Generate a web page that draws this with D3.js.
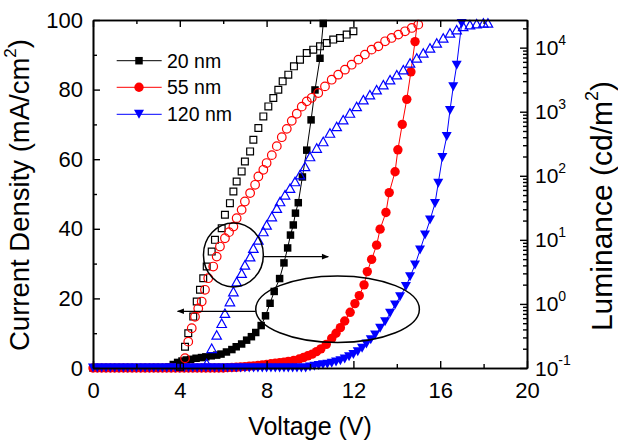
<!DOCTYPE html>
<html>
<head>
<meta charset="utf-8">
<script src="https://cdn.jsdelivr.net/npm/d3@7"></script>
<style>
body { margin: 0; background: #fff; }
svg { display: block; font-family: "Liberation Sans", Arial, sans-serif; }
</style>
</head>
<body>
<svg id="chart" width="618" height="446"></svg>
<script>
// ---- data ----
var seriesNames = ["20 nm", "55 nm", "120 nm"];

// current density (mA/cm2), filled symbols, left axis: [V, J]
var jd20 = [[0,0],[0.2,0],[0.4,0],[0.6,0],[0.8,0],[1,0],[1.2,0],[1.4,0],[1.6,0],[1.8,0],[2,0],[2.2,0],[2.4,0],[2.6,0],[2.8,0],[3,0],[3.2,0],
  [3.5,0.3],[3.7,1.0],[3.9,1.6],[4.1,2.0],[4.3,2.3],[4.5,2.5],[4.75,2.8],[5.0,3.0],[5.2,3.2],[5.45,3.5],[5.7,3.7],[5.9,4.0],
  [6.15,4.6],[6.4,5.3],[6.6,6.1],[6.85,6.9],[7.08,8.0],[7.3,9.0],[7.5,10.2],[7.75,12.2],[7.95,15.0],[8.16,18.6],[8.35,22.0],
  [8.6,25.7],[8.8,30.2],[8.97,34.5],[9.1,38.2],[9.23,41.1],[9.33,44.5],[9.46,47.5],[9.65,54.9],[9.85,62.6],[10.05,71.3],
  [10.23,79.9],[10.46,89.0],[10.61,99.0],[10.75,108]];
var jd55 = [[0,0],[0.2,0],[0.4,0],[0.6,0],[0.8,0],[1,0],[1.2,0],[1.4,0],[1.6,0],[1.8,0],[2,0],[2.2,0],[2.4,0],[2.6,0],[2.8,0],[3,0],
  [3.2,0],[3.4,0],[3.6,0],[3.8,0],[4,0],[4.2,0],[4.4,0],[4.6,0],[4.8,0],[5,0],[5.2,0],[5.4,0],[5.6,0],[5.8,0],[6,0],
  [6.2,0.1],[6.4,0.15],[6.6,0.2],[6.8,0.3],[7.0,0.4],[7.2,0.5],[7.4,0.6],[7.6,0.75],[7.8,0.9],[8.0,1.0],[8.2,1.2],[8.4,1.35],
  [8.6,1.5],[8.8,1.7],[9.0,1.9],[9.25,2.2],[9.5,2.6],[9.7,3.0],[9.9,3.5],[10.1,4.0],[10.3,4.7],[10.5,5.5],[10.75,6.8],
  [11.0,8.5],[11.2,10.0],[11.4,11.6],[11.6,13.5],[11.85,16.0],[12.07,18.5],[12.27,20.8],[12.49,23.9],[12.64,27.7],[12.84,31.2],
  [13.07,35.3],[13.23,39.9],[13.5,44.7],[13.65,50.4],[13.92,56.4],[14.05,62.7],[14.25,70.0],[14.46,77.2],[14.65,85.1],
  [14.84,93.8],[15.0,102]];
var jd120 = [[0,0],[0.2,0],[0.4,0],[0.6,0],[0.8,0],[1,0],[1.2,0],[1.4,0],[1.6,0],[1.8,0],[2,0],[2.2,0],[2.4,0],[2.6,0],[2.8,0],[3,0],
  [3.2,0],[3.4,0],[3.6,0],[3.8,0],[4,0],[4.2,0],[4.4,0],[4.6,0],[4.8,0],[5,0],[5.2,0],[5.4,0],[5.6,0],[5.8,0],[6,0],[6.2,0],
  [6.4,0],[6.6,0],[6.8,0],[7,0],[7.2,0],[7.4,0],[7.6,0],[7.8,0],[8,0],[8.2,0],[8.4,0],[8.6,0],[8.8,0],[9,0],[9.2,0],[9.4,0],
  [9.6,0],[9.8,0],[10.0,0.3],[10.2,0.5],[10.4,0.7],[10.6,0.9],[10.8,1.1],[11.0,1.4],[11.2,1.7],[11.4,2.1],[11.6,2.6],[11.8,3.2],
  [12.0,3.9],[12.2,4.7],[12.4,5.7],[12.6,6.9],[12.8,8.1],[13.0,9.5],[13.23,11.4],[13.46,13.3],[13.69,15.7],[13.92,18.1],
  [14.15,20.5],[14.42,23.4],[14.61,26.2],[14.84,29.6],[15.07,33.9],[15.3,38.2],[15.53,42.5],[15.76,47.3],[15.91,53.1],
  [16.1,60.5],[16.3,66.5],[16.45,74.0],[16.6,80.8],[16.76,87.0],[16.99,99.0]];

// luminance (cd/m2), open symbols, right axis: [V, L]
var lum20 = [[4.01,0.105],[4.24,0.215],[4.39,0.348],[4.62,0.634],[4.78,1.09],[4.93,1.66],[5.08,2.52],[5.24,3.83],[5.47,6.56],
  [5.62,10],[5.93,15.2],[6.08,24.6],[6.31,37.4],[6.47,56.9],[6.62,81.5],[6.85,117],[7.0,167],[7.24,240],[7.39,365],[7.62,556],
  [7.85,845],[8.08,1211],[8.31,1637],[8.54,2206],[8.74,2978],[9.0,3785],[9.26,5105],[9.54,6494],[9.85,8260],[10.15,9310],
  [10.46,10480],[10.77,11840],[11.07,13340],[11.38,14170],[11.69,15970],[12.0,17990]];
var lum55 = [[4.24,0.142],[4.39,0.258],[4.55,0.417],[4.70,0.63],[4.85,0.85],[5.01,1.09],[5.16,1.66],[5.31,2.52],[5.54,3.83],
  [5.70,5.48],[5.85,7.86],[6.08,10.6],[6.27,13.2],[6.47,16.1],[6.62,21.8],[6.85,29.4],[7.0,39.7],[7.24,53.7],[7.47,72.3],
  [7.62,97.5],[7.85,124],[8.0,158],[8.24,210],[8.47,290],[8.70,400],[8.93,540],[9.16,720],[9.39,930],[9.62,1200],[9.85,1450],
  [10.08,1650],[10.38,1960],[10.69,2485],[11.0,3162],[11.3,3785],[11.61,4530],[11.92,5420],[12.23,6494],[12.53,7780],
  [12.84,9310],[13.15,10480],[13.46,12560],[13.76,14170],[14.07,15970],[14.38,17990],[14.69,20280],[14.99,22860]];
var lum120 = [[5.24,0.118],[5.47,0.203],[5.70,0.328],[5.93,0.499],[6.08,0.716],[6.31,1.09],[6.47,1.56],[6.62,2.23],[6.85,3.02],
  [7.0,4.07],[7.24,5.48],[7.39,7.42],[7.62,10],[7.85,13.5],[8.0,17.1],[8.24,23.1],[8.47,31.3],[8.62,39.7],[8.85,50.5],
  [9.08,64.2],[9.31,81.5],[9.54,104],[9.77,140],[10.0,200],[10.31,271],[10.61,343],[10.92,465],[11.23,589],[11.53,750],
  [11.84,955],[12.15,1211],[12.46,1540],[12.76,1845],[13.07,2206],[13.38,2640],[13.69,3162],[14.0,3785],[14.3,4530],
  [14.61,5770],[14.92,6900],[15.22,8260],[15.53,9890],[15.84,11840],[16.14,14170],[16.45,16980],[16.76,19100],[17.06,21530],
  [17.37,22860],[17.68,23710],[17.99,24320],[18.2,24320]];

var xTicks = [0, 4, 8, 12, 16, 20];
var yLeftTicks = [0, 20, 40, 60, 80, 100];
var yRightTicks = [0.1, 1, 10, 100, 1000, 10000];
var yRightExp = ["-1", "0", "1", "2", "3", "4"];

// annotation ellipses [centre V, centre J, half-width V, half-height J] and arrows [V from, V to, J]
var lumRing = [6.47, 32.5, 1.38, 9.2];
var lumArrow = [7.85, 10.84, 32.0];
var curRing = [11.27, 16.9, 3.77, 9.57];
var curArrow = [7.5, 3.9, 16.3];

// ---- drawing ----
var colors = ["#000000", "#ff0000", "#0000ff"];
var svg = d3.select("#chart");
var margin = {top: 20, right: 91, bottom: 78, left: 93},
    width = 618 - margin.left - margin.right,
    height = 446 - margin.top - margin.bottom;

var x = d3.scaleLinear().domain([0, 20]).range([margin.left, margin.left + width]);
var yL = d3.scaleLinear().domain([0, 100]).range([margin.top + height, margin.top]);
var yR = d3.scaleLog().domain([0.1, 27000]).range([margin.top + height, margin.top]);

svg.append("defs").append("clipPath").attr("id", "plotclip")
  .append("rect").attr("x", margin.left).attr("y", margin.top).attr("width", width).attr("height", height);

var defs = svg.select("defs");
defs.append("marker").attr("id", "arrow").attr("viewBox", "0 0 10 10")
  .attr("refX", 9).attr("refY", 5).attr("markerWidth", 9).attr("markerHeight", 7)
  .attr("markerUnits", "userSpaceOnUse").attr("orient", "auto")
  .append("path").attr("d", "M0,1 L10,5 L0,9 z").attr("fill", "#000");

// symbol path builders
function squarePath(s) { var h = s / 2; return "M" + (-h) + "," + (-h) + "H" + h + "V" + h + "H" + (-h) + "Z"; }
function circlePath(r) { return d3.symbol().type(d3.symbolCircle).size(Math.PI * r * r)(); }
function triPath(w, h, down) {
  var s = down ? -1 : 1;
  return "M" + (-w / 2) + "," + (s * h / 2) + "L" + (w / 2) + "," + (s * h / 2) + "L0," + (-s * h / 2) + "Z";
}
var filledSym = [squarePath(7.5), circlePath(4.7), triPath(10, 9, true)];
var openSym = [squarePath(6.8), circlePath(4.3), triPath(9.5, 8.5, false)];

var jData = [jd20, jd55, jd120];
var lData = [lum20, lum55, lum120];

// current density: lines + filled symbols
var line = d3.line().x(function(d) { return x(d[0]); }).y(function(d) { return yL(d[1]); });
jData.forEach(function(data, i) {
  svg.append("path").datum(data)
    .attr("d", line).attr("fill", "none").attr("stroke", colors[i]).attr("stroke-width", 1)
    .attr("clip-path", "url(#plotclip)");
});
jData.forEach(function(data, i) {
  svg.append("g").selectAll("path")
    .data(data.filter(function(d) { return d[1] <= 100; }))
    .enter().append("path")
    .attr("d", filledSym[i])
    .attr("transform", function(d) { return "translate(" + x(d[0]) + "," + yL(d[1]) + ")"; })
    .attr("fill", colors[i]);
});

// luminance: open symbols
lData.forEach(function(data, i) {
  svg.append("g").selectAll("path")
    .data(data)
    .enter().append("path")
    .attr("d", openSym[i])
    .attr("transform", function(d) { return "translate(" + x(d[0]) + "," + yR(d[1]) + ")"; })
    .attr("fill", "none").attr("stroke", colors[i]).attr("stroke-width", 1.2);
});

// axes
function styleAxis(g) {
  g.selectAll(".domain").attr("stroke", "#000").attr("stroke-width", 1.6);
  g.selectAll(".tick line").attr("stroke", "#000").attr("stroke-width", 1.4);
  g.selectAll("text").attr("fill", "#000");
}
var minorX = d3.range(2, 20, 4);
var minorYL = d3.range(10, 100, 20);

svg.append("g").attr("transform", "translate(0," + (margin.top + height) + ")")
  .call(d3.axisBottom(x).tickValues(xTicks).tickSizeInner(-7).tickSizeOuter(0).tickPadding(14.5))
  .call(styleAxis).call(function(g) { g.selectAll("text").attr("font-size", 22).attr("font-family", null); });
svg.append("g").attr("transform", "translate(0," + (margin.top + height) + ")")
  .call(d3.axisBottom(x).tickValues(minorX).tickSizeInner(-4).tickSizeOuter(0).tickFormat(""))
  .call(styleAxis);
svg.append("g").attr("transform", "translate(0," + margin.top + ")")
  .call(d3.axisTop(x).tickValues(xTicks).tickSizeInner(-7).tickSizeOuter(0).tickFormat(""))
  .call(styleAxis);
svg.append("g").attr("transform", "translate(0," + margin.top + ")")
  .call(d3.axisTop(x).tickValues(minorX).tickSizeInner(-4).tickSizeOuter(0).tickFormat(""))
  .call(styleAxis);

svg.append("g").attr("transform", "translate(" + margin.left + ",0)")
  .call(d3.axisLeft(yL).tickValues(yLeftTicks).tickSizeInner(-7).tickSizeOuter(0).tickPadding(10))
  .call(styleAxis).call(function(g) { g.selectAll("text").attr("font-size", 22).attr("font-family", null); });
svg.append("g").attr("transform", "translate(" + margin.left + ",0)")
  .call(d3.axisLeft(yL).tickValues(minorYL).tickSizeInner(-4).tickSizeOuter(0).tickFormat(""))
  .call(styleAxis);

var minorYR = [];
[0.1, 1, 10, 100, 1000, 10000].forEach(function(base) {
  for (var k = 2; k <= 9; k++) { if (base * k <= 27000) minorYR.push(base * k); }
});
svg.append("g").attr("transform", "translate(" + (margin.left + width) + ",0)")
  .call(d3.axisRight(yR).tickValues(yRightTicks).tickSizeInner(-7).tickSizeOuter(0).tickFormat(""))
  .call(styleAxis);
svg.append("g").attr("transform", "translate(" + (margin.left + width) + ",0)")
  .call(d3.axisRight(yR).tickValues(minorYR).tickSizeInner(-4).tickSizeOuter(0).tickFormat(""))
  .call(styleAxis);

// right tick labels 10^n
var rLab = svg.append("g").attr("font-size", 21).attr("fill", "#000");
yRightTicks.forEach(function(t, i) {
  var txt = rLab.append("text").attr("x", margin.left + width + 8).attr("y", yR(t)).attr("dy", "0.36em");
  txt.append("tspan").text("10");
  txt.append("tspan").attr("font-size", 14).attr("dy", "-0.75em").text(yRightExp[i]);
});

// axis titles
svg.append("text").attr("x", margin.left + width / 2).attr("y", 435)
  .attr("text-anchor", "middle").attr("font-size", 25).text("Voltage (V)");

var lt = svg.append("text").attr("transform", "translate(28.5," + (margin.top + height / 2 + 1) + ") rotate(-90)")
  .attr("text-anchor", "middle").attr("font-size", 27.5);
lt.append("tspan").text("Current Density (mA/cm");
lt.append("tspan").attr("font-size", 17).attr("dy", "-0.75em").text("2");
lt.append("tspan").attr("dy", "0.45em").text(")");

var rt = svg.append("text").attr("transform", "translate(611.5,206) rotate(-90)")
  .attr("text-anchor", "middle").attr("font-size", 30);
rt.append("tspan").text("Luminance (cd/m");
rt.append("tspan").attr("font-size", 18).attr("dy", "-0.75em").text("2");
rt.append("tspan").attr("dy", "0.45em").text(")");

// annotations
function ring(r) {
  svg.append("ellipse")
    .attr("cx", x(r[0])).attr("cy", yL(r[1]))
    .attr("rx", x(r[0] + r[2]) - x(r[0])).attr("ry", yL(r[1]) - yL(r[1] + r[3]))
    .attr("fill", "none").attr("stroke", "#000").attr("stroke-width", 1.5);
}
function arrow(a) {
  svg.append("line")
    .attr("x1", x(a[0])).attr("x2", x(a[1])).attr("y1", yL(a[2])).attr("y2", yL(a[2]))
    .attr("stroke", "#000").attr("stroke-width", 1.3).attr("marker-end", "url(#arrow)");
}
ring(lumRing); arrow(lumArrow);
ring(curRing); arrow(curArrow);

// legend
var legendRows = [60.7, 87.3, 114.3];
var legend = svg.append("g");
seriesNames.forEach(function(name, i) {
  legend.append("line").attr("x1", 116.7).attr("x2", 161.7).attr("y1", legendRows[i]).attr("y2", legendRows[i])
    .attr("stroke", colors[i]).attr("stroke-width", 1);
  legend.append("path").attr("d", filledSym[i])
    .attr("transform", "translate(139," + legendRows[i] + ")").attr("fill", colors[i]);
  legend.append("text").attr("x", 167).attr("y", legendRows[i]).attr("dy", "0.36em")
    .attr("font-size", 19.5).attr("fill", "#000").text(name);
});
</script>
</body>
</html>
